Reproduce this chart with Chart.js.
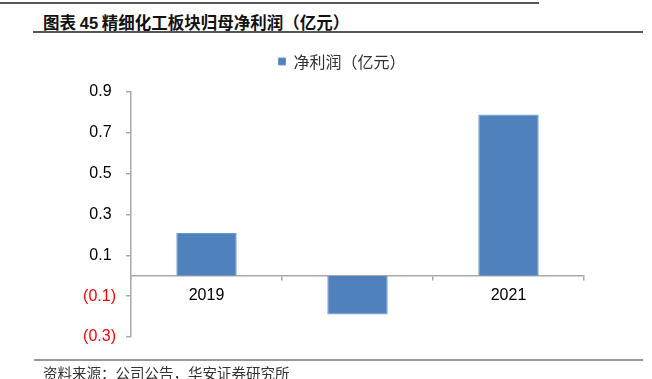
<!DOCTYPE html>
<html lang="zh">
<head>
<meta charset="UTF-8">
<title>精细化工板块归母净利润</title>
<script src="https://cdn.jsdelivr.net/npm/chart.js"></script>
<style>
  body { margin: 0; background: #fff; width: 652px; height: 379px; overflow: hidden; position: relative; }
  .rule { position: absolute; }
  #title { position: absolute; left: 43px; top: 12px; font: bold 16.5px/20px "Noto Sans CJK SC", sans-serif; color: #111; white-space: nowrap; }
  #title .num { font-family: "Liberation Sans", Arial, sans-serif; }
  #source { position: absolute; left: 43px; top: 364px; font: 14.5px/18px "Noto Sans CJK SC", sans-serif; color: #333; white-space: nowrap; }
  #wrap { position: absolute; left: 0; top: 40px; width: 652px; height: 320px; }
</style>
</head>
<body>
<div class="rule" style="left:0;top:2px;width:539px;height:2px;background:#555"></div>
<div id="title">图表 <span class="num">45</span> 精细化工板块归母净利润（亿元）</div>
<div class="rule" style="left:33px;top:31px;width:610px;height:1.5px;background:#555"></div>
<div id="wrap"><canvas id="chart"></canvas></div>
<div class="rule" style="left:34px;top:359px;width:609px;height:1.5px;background:#999"></div>
<div id="source">资料来源：公司公告，华安证券研究所</div>

<script>
// 数据
const years = ['2019', '2020', '2021'];
const netProfit = [0.21, -0.19, 0.79];
const seriesName = '净利润（亿元）';
const yTicks = [-0.3, -0.1, 0.1, 0.3, 0.5, 0.7, 0.9];

const axisColor = '#aaaaaa';
const numFont = { family: '"Liberation Sans", Arial, sans-serif', size: 16 };

// 图例稍微往右挪一点，和原图对齐
const legendShift = {
    id: 'legendShift',
    afterLayout(chart) {
        chart.legend.left += 10;
        chart.legend.right += 10;
    }
};

const ctx = document.getElementById('chart').getContext('2d');
new Chart(ctx, {
    type: 'bar',
    data: {
        labels: years,
        datasets: [{
            label: seriesName,
            data: netProfit,
            backgroundColor: '#4f81bd',
            borderColor: '#6f98cc',
            borderWidth: 1,
            barPercentage: 0.4,
            categoryPercentage: 1
        }]
    },
    options: {
        responsive: true,
        maintainAspectRatio: false,
        animation: false,
        layout: { padding: { left: 80, right: 68, top: 3.5, bottom: 23 } },
        plugins: {
            legend: {
                position: 'top',
                weight: 3000,
                labels: {
                    boxWidth: 7,
                    boxHeight: 7,
                    padding: 10,
                    color: '#333',
                    font: { family: '"Noto Sans CJK SC", sans-serif', size: 16 }
                }
            },
            // 空标题，只用来留出图例与绘图区之间的空隙
            title: { display: true, text: ' ', padding: 0, font: { size: 10, lineHeight: 1.25 } },
            tooltip: { enabled: false }
        },
        scales: {
            x: {
                position: { y: 0 },
                grid: { drawOnChartArea: false, drawTicks: true, tickLength: 4, color: axisColor, lineWidth: 1.5 },
                border: { color: axisColor, width: 1.5 },
                ticks: { color: '#000', font: numFont, padding: 6 }
            },
            y: {
                min: -0.3,
                max: 0.9,
                afterFit: (scale) => { scale.width = 51; },
                afterBuildTicks: (scale) => { scale.ticks = yTicks.map(v => ({ value: v })); },
                grid: { drawOnChartArea: false, drawTicks: true, tickLength: 5, color: axisColor, lineWidth: 1.5 },
                border: { color: axisColor, width: 1.5 },
                ticks: {
                    font: numFont,
                    padding: 10,
                    color: (c) => c.tick.value < 0 ? '#ff0000' : '#000',
                    callback: (v) => v < 0 ? '(' + Math.abs(v).toFixed(1) + ')' : v.toFixed(1) + ' '
                }
            }
        }
    },
    plugins: [legendShift]
});
</script>
</body>
</html>
